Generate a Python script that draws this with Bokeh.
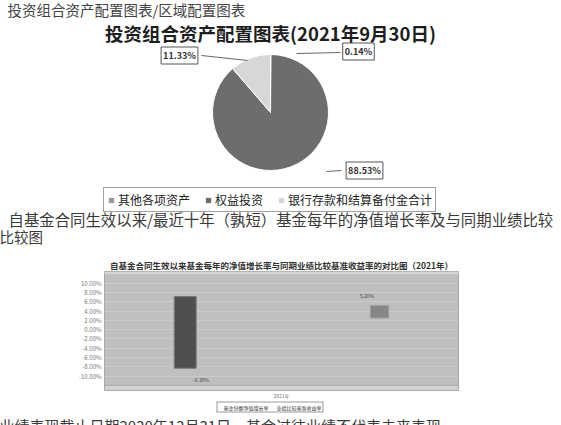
import math
from bokeh.plotting import figure
from bokeh.models import (Range1d, FactorRange, Label, Legend, LegendItem, FixedTicker,
                          Spacer, BoxAnnotation, ColumnDataSource, PrintfTickFormatter)
from bokeh.layouts import column, row
from bokeh.transform import dodge
from bokeh.core.properties import value
from bokeh.embed import file_html
from bokeh.resources import INLINE

FONT = "Noto Sans CJK SC"

# ---- page texts ----
header_text = "投资组合资产配置图表/区域配置图表"
pie_title = "投资组合资产配置图表(2021年9月30日)"
para_line1 = "自基金合同生效以来/最近十年（孰短）基金每年的净值增长率及与同期业绩比较"
para_line2 = "比较图"
footer_text = "业绩表现截止日期2020年12月31日，基金过往业绩不代表未来表现"

# ---- pie data (clockwise from 12 o'clock) ----
asset_names = ["其他各项资产", "权益投资", "银行存款和结算备付金合计"]
asset_pcts = [0.14, 88.53, 11.33]
asset_colors = ["#9a9a9a", "#6d6d6d", "#d7d7d7"]

# ---- bar data ----
bar_title = "自基金合同生效以来基金每年的净值增长率与同期业绩比较基准收益率的对比图（2021年）"
bar_years = ["2021年"]
series_names = ["基金份额净值增长率", "业绩比较基准收益率"]
series_colors = ["#4f4f4f", "#878787"]
fund_high = [7.1]
fund_low = [-8.3]
bench_high = [5.2]
bench_low = [2.5]
fund_text = ["-8.30%"]
bench_text = ["5.20%"]
bar_ticks = [10, 8, 6, 4, 2, 0, -2, -4, -6, -8, -10]

PW, PH = 561, 425

def clean(fig):
    fig.axis.visible = False
    fig.grid.visible = False
    fig.outline_line_color = None
    fig.background_fill_color = "white"
    fig.border_fill_color = "white"

def T(fig, x, y, txt, size, color="#333333", bold=False, align="left", baseline="top"):
    fig.text(x=[x], y=[-y], text=[txt], text_font=value(FONT), text_font_size=size,
             text_color=color, text_align=align, text_baseline=baseline,
             text_font_style="bold" if bold else "normal")

# ================= top canvas (page y 0..255) =================
top = figure(width=PW, height=255, x_range=Range1d(0, PW), y_range=Range1d(-255, 0),
             output_backend="svg", toolbar_location=None, min_border=0)
clean(top)

T(top, 7, -2, header_text, "14.5px", "#444444")
T(top, 270, 19, pie_title, "18.5px", "#1e1e1e", bold=True, align="center")

# pie
cx, cy, r = 270, 112, 58
cum = 0.0
items = []
for name, pct, col in zip(asset_names, asset_pcts, asset_colors):
    a0 = math.pi / 2 - 2 * math.pi * (cum + pct) / 100.0
    a1 = math.pi / 2 - 2 * math.pi * cum / 100.0
    cum += pct
    rr = top.wedge(x=[cx], y=[-cy], radius=r, radius_units="screen", start_angle=[a0],
                   end_angle=[a1], fill_color=col, line_color="white", line_width=1)
    items.append(LegendItem(label=name, renderers=[rr]))

leg = Legend(items=items, location=(103, 43), orientation="horizontal",
             label_text_font=FONT, label_text_font_size="12px", label_text_color="#222222",
             glyph_width=8, glyph_height=8, label_standoff=3, spacing=14, padding=3,
             margin=0, label_height=10, border_line_color="#444444", border_line_width=1,
             background_fill_color="white", background_fill_alpha=1)
top.add_layout(leg, "center")

# data labels of pie
label_pos = [(358, 51), (364, 170), (179, 55)]
leaders = [((296, 53), (340, 52)), ((326, 171), (341, 170)), ((201, 55), (247, 60))]
for (lx, ly), pct in zip(label_pos, asset_pcts):
    top.add_layout(Label(x=lx, y=-ly, text=f"{pct:.2f}%", text_font=FONT,
                         text_font_size="9px", text_font_style="bold", text_color="#333333",
                         text_align="center", text_baseline="middle",
                         background_fill_color="white", border_line_color="#555555",
                         border_line_width=1, padding=2))
for (p0, p1) in leaders:
    top.line(x=[p0[0], p1[0]], y=[-p0[1], -p1[1]], line_color="#666666", line_width=1)

T(top, 8, 207, para_line1, "15.4px", "#3a3a3a")
T(top, -1, 225, para_line2, "14.5px", "#3a3a3a")

# ================= bar chart (page x 75..465, y 255..401) =================
pb = figure(width=390, height=146, x_range=FactorRange(*bar_years), y_range=Range1d(-13.1, 12.5),
            output_backend="svg", toolbar_location=None,
            min_border_left=28, min_border_right=7, min_border_top=15, min_border_bottom=8)
pb.title.text = bar_title
pb.title.text_font = FONT
pb.title.text_font_size = "8.5px"
pb.title.text_color = "#333333"
pb.title.align = "center"
pb.title.standoff = 2
pb.title.offset = 0
pb.background_fill_color = "#bfbfbf"
pb.border_fill_color = "white"
pb.outline_line_color = "#a9a9a9"
pb.xgrid.visible = False
pb.ygrid.ticker = FixedTicker(ticks=bar_ticks)
pb.ygrid.grid_line_color = "#cbcbcb"
pb.yaxis.ticker = FixedTicker(ticks=bar_ticks)
pb.yaxis.formatter = PrintfTickFormatter(format="%.2f%%")
for ax in (pb.xaxis[0], pb.yaxis[0]):
    ax.axis_line_color = None
    ax.major_tick_line_color = None
    ax.minor_tick_line_color = None
    ax.major_tick_out = 0
    ax.major_tick_in = 0
    ax.minor_tick_out = 0
    ax.major_label_text_font = FONT
    ax.major_label_text_color = "#777777"
    ax.major_label_standoff = 3
pb.yaxis.major_label_text_font_size = "6px"
pb.xaxis.major_label_text_font_size = "5px"
pb.xaxis.major_label_standoff = 1

pb.add_layout(BoxAnnotation(bottom=-13.1, top=-12.0, fill_color="#d2d2d2", fill_alpha=1,
                            line_color="#9a9a9a", line_alpha=0.6))
pb.add_layout(BoxAnnotation(bottom=11.9, top=12.5, fill_color="#d6d6d6", fill_alpha=1,
                            line_color=None))

fsrc = ColumnDataSource(dict(year=bar_years, high=fund_high, low=fund_low, lab=fund_text))
bsrc = ColumnDataSource(dict(year=bar_years, high=bench_high, low=bench_low, lab=bench_text))
pb.vbar(x=dodge("year", -0.272, range=pb.x_range), top="high", bottom="low", width=0.062,
        source=fsrc, fill_color=series_colors[0], line_color="#777777", line_width=1)
pb.vbar(x=dodge("year", 0.277, range=pb.x_range), top="high", bottom="low", width=0.052,
        source=bsrc, fill_color=series_colors[1], line_color="#a0a0a0", line_width=1)
pb.text(x=dodge("year", -0.25, range=pb.x_range), y="low", text="lab", source=fsrc,
        text_font=value(FONT), text_font_size="5px", text_color="#444444",
        y_offset=11, text_align="left", text_baseline="middle")
pb.text(x=dodge("year", 0.262, range=pb.x_range), y="high", text="lab", source=bsrc,
        text_font=value(FONT), text_font_size="5px", text_color="#444444",
        y_offset=-10, text_align="right", text_baseline="middle")

# ================= bar legend strip (page y 401..413) =================
lf = figure(width=390, height=12, x_range=Range1d(0, 1), y_range=Range1d(0, 1),
            output_backend="svg", toolbar_location=None, min_border=0)
clean(lf)
litems = []
for nm, colr in zip(series_names, series_colors):
    rr = lf.scatter(x=[], y=[], marker="square", size=4, fill_color=colr, line_color=colr)
    litems.append(LegendItem(label=nm, renderers=[rr]))
bleg = Legend(items=litems, location="center", orientation="horizontal", label_text_font=FONT,
              label_text_font_size="5px", glyph_width=4, glyph_height=4, label_standoff=1,
              spacing=3, padding=1, margin=0, label_height=5, label_text_color="#333333",
              border_line_color="#333333", border_line_width=1, background_fill_alpha=1)
lf.add_layout(bleg, "center")

# ================= bottom strip (page y 413..425) =================
bot = figure(width=PW, height=12, x_range=Range1d(0, PW), y_range=Range1d(-425, -413),
             output_backend="svg", toolbar_location=None, min_border=0)
clean(bot)
T(bot, -1, 414, footer_text, "15px", "#3a3a3a")

layout = column(top,
                row(Spacer(width=75, height=146), pb, Spacer(width=96, height=146)),
                row(Spacer(width=75, height=12), lf, Spacer(width=96, height=12)),
                bot)

open("out.html", "w").write(file_html(layout, INLINE))
